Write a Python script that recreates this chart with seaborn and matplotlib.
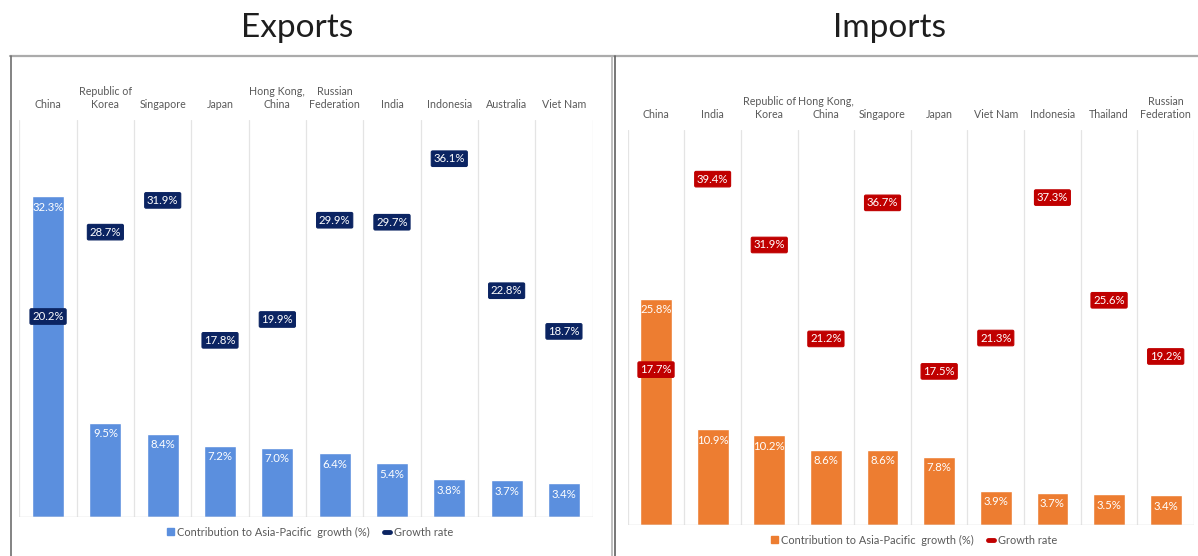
import matplotlib
matplotlib.use("Agg")
import matplotlib.pyplot as plt
from matplotlib.lines import Line2D
from matplotlib.patches import Patch
import seaborn as sns
import pandas as pd

sns.set_theme(style="white")
plt.rcParams["font.family"] = ["Lato", "DejaVu Sans"]

# ---- data ----
export_countries = ["China", "Republic of\nKorea", "Singapore", "Japan", "Hong Kong,\nChina",
                    "Russian\nFederation", "India", "Indonesia", "Australia", "Viet Nam"]
export_contribution = [32.3, 9.5, 8.4, 7.2, 7.0, 6.4, 5.4, 3.8, 3.7, 3.4]
export_growth = [20.2, 28.7, 31.9, 17.8, 19.9, 29.9, 29.7, 36.1, 22.8, 18.7]

import_countries = ["China", "India", "Republic of\nKorea", "Hong Kong,\nChina", "Singapore",
                    "Japan", "Viet Nam", "Indonesia", "Thailand", "Russian\nFederation"]
import_contribution = [25.8, 10.9, 10.2, 8.6, 8.6, 7.8, 3.9, 3.7, 3.5, 3.4]
import_growth = [17.7, 39.4, 31.9, 21.2, 36.7, 17.5, 21.3, 37.3, 25.6, 19.2]

legend_labels = ["Contribution to Asia-Pacific  growth (%)", "Growth rate"]

W, H = 1198, 556
fig = plt.figure(figsize=(W / 100, H / 100), dpi=100)

TXT = "#595959"
GRID = "#e4e4e4"


def panel(rect, countries, contrib, growth, ymax, bar_color, tag_color, legend_center):
    ax = fig.add_axes(rect)
    df = pd.DataFrame({"country": countries, "contrib": contrib})
    sns.barplot(data=df, x="country", y="contrib", color=bar_color, saturation=1,
                width=0.56, ax=ax, order=countries)
    n = len(countries)
    ax.set_xlim(-0.5, n - 0.5)
    ax.set_ylim(0, ymax)
    # category separators and baseline
    for b in range(n + 1):
        ax.axvline(b - 0.5, color=GRID, lw=0.9, zorder=0)
    ax.axhline(0, color="#d6d6d6", lw=1.0, zorder=1)
    for s in ax.spines.values():
        s.set_visible(False)
    ax.set_xlabel("")
    ax.set_ylabel("")
    ax.set_yticks([])
    ax.xaxis.tick_top()
    ax.tick_params(axis="x", length=0, pad=7, labelsize=7.7, labelcolor=TXT)
    # bar value labels inside the bar tops
    for i, v in enumerate(contrib):
        ax.annotate(f"{v:.1f}%", xy=(i, v), xytext=(0, -8), textcoords="offset points",
                    ha="center", va="center", color="white", fontsize=8.2, zorder=4)
    # growth rate tags
    for i, g in enumerate(growth):
        ax.text(i, g, f"{g:.1f}%", ha="center", va="center", color="white", fontsize=8.2,
                zorder=5,
                bbox=dict(boxstyle="round,pad=0.2,rounding_size=0.12", fc=tag_color,
                          ec=tag_color, lw=0.8))
    handles = [
        Patch(facecolor=bar_color, edgecolor=bar_color),
        Line2D([0], [0], color=tag_color, lw=3.5, solid_capstyle="round"),
    ]
    ax.legend(handles, legend_labels, loc="center", bbox_to_anchor=legend_center,
              bbox_transform=fig.transFigure, ncol=2, frameon=False, fontsize=7.9,
              labelcolor=TXT, handlelength=0.6, handleheight=0.6, handletextpad=0.3,
              columnspacing=1.3)
    return ax


# exports panel
panel([19.4 / W, 1 - 517 / H, 573.2 / W, (517 - 120) / H],
      export_countries, export_contribution, export_growth, 40,
      "#5b8fde", "#0b2462", (310 / W, 1 - 532 / H))

# imports panel
panel([627.7 / W, 1 - 525 / H, 566.3 / W, (525 - 130) / H],
      import_countries, import_contribution, import_growth, 45,
      "#ed7d31", "#c00000", (914 / W, 1 - 540 / H))

# titles
fig.text(297 / W, 1 - 28 / H, "Exports", ha="center", va="center", fontsize=24, color="#1e1e1e")
fig.text(890 / W, 1 - 28 / H, "Imports", ha="center", va="center", fontsize=24, color="#1e1e1e")

# panel frames
ytop = 1 - 56 / H
fig.add_artist(Line2D([10 / W, 1], [ytop, ytop], color="#ababab", lw=1.6))
fig.add_artist(Line2D([10.5 / W, 10.5 / W], [0, ytop], color="#6e6e6e", lw=1.2))
fig.add_artist(Line2D([612 / W, 612 / W], [0, ytop], color="#b4b4b4", lw=1.2))
fig.add_artist(Line2D([615 / W, 615 / W], [0, ytop], color="#606060", lw=1.2))

fig.savefig("out.png", dpi=100)
